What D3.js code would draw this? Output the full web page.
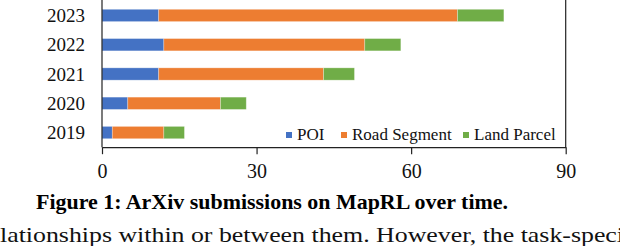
<!DOCTYPE html>
<html>
<head>
<meta charset="utf-8">
<script src="https://cdn.jsdelivr.net/npm/d3@7"></script>
<style>
  body { margin: 0; background: #fff; }
  svg { display: block; }
</style>
</head>
<body>
<script>
  // chart values
  let years = ["2019", "2020", "2021", "2022", "2023"];
  let poi = [2, 5, 11, 12, 11];
  let roadSegment = [10, 18, 32, 39, 58];
  let landParcel = [4, 5, 6, 7, 9];
  let seriesNames = ["POI", "Road Segment", "Land Parcel"];
  let xTicks = [0, 30, 60, 90];

  let colors = ["#4472C4", "#ED7D31", "#70AD47"];
  let serif = "'Liberation Serif', 'Times New Roman', serif";

  let svg = d3.select("body")
    .append("svg")
    .attr("width", 620)
    .attr("height", 246);

  // build rows for the stack
  let rows = years.map((y, i) => ({
    year: y,
    "POI": poi[i],
    "Road Segment": roadSegment[i],
    "Land Parcel": landParcel[i]
  }));
  let stacked = d3.stack().keys(seriesNames)(rows);

  let xScale = d3.scaleLinear()
    .domain([0, 90])
    .range([102, 565.7]);

  // 2019 at the bottom, 2023 on top
  let yScale = d3.scaleBand()
    .domain(years.slice().reverse())
    .range([0.8, 147.2])
    .paddingInner(0.58)
    .paddingOuter(0.29);

  // bars
  svg.selectAll(".series")
    .data(stacked)
    .enter()
    .append("g")
      .attr("fill", (d, i) => colors[i])
    .selectAll("rect")
    .data((d) => d)
    .enter()
    .append("rect")
      .attr("x", (d) => xScale(d[0]))
      .attr("y", (d) => yScale(d.data.year))
      .attr("width", (d) => xScale(d[1]) - xScale(d[0]))
      .attr("height", yScale.bandwidth())
      .attr("stroke", "#ffffff")
      .attr("stroke-opacity", 0.35)
      .attr("stroke-width", 0.8);

  // plot frame (right side)
  svg.append("line")
    .attr("x1", xScale(90)).attr("x2", xScale(90))
    .attr("y1", 0).attr("y2", 147.2)
    .attr("stroke", "#222").attr("stroke-width", 1.2);

  // x axis
  let xAxis = d3.axisBottom(xScale)
    .tickValues(xTicks)
    .tickSize(7)
    .tickSizeOuter(0);
  let gx = svg.append("g")
    .attr("transform", "translate(0,147.2)")
    .attr("font-family", serif)
    .call(xAxis);
  gx.select(".domain").attr("stroke", "#222").attr("stroke-width", 1.2);
  gx.selectAll(".tick line").attr("stroke", "#222").attr("stroke-width", 1.2);
  gx.selectAll(".tick text")
    .attr("y", 30.5)
    .attr("dy", null)
    .style("font-family", serif)
    .style("font-size", "20px")
    .attr("fill", "#111");

  // y axis
  let yAxis = d3.axisLeft(yScale).tickSize(0).tickPadding(17);
  let gy = svg.append("g")
    .attr("transform", "translate(102,0)")
    .attr("font-family", serif)
    .call(yAxis);
  gy.select(".domain").attr("stroke", "#222").attr("stroke-width", 1.2)
    .attr("d", "M0,0V147.2");
  gy.selectAll(".tick text")
    .attr("dy", "0.35em")
    .style("font-family", serif)
    .style("font-size", "19px")
    .attr("fill", "#111");

  // legend
  let legendX = [286, 341, 463];
  let legend = svg.selectAll(".legend")
    .data(seriesNames)
    .enter()
    .append("g")
      .attr("transform", (d, i) => "translate(" + legendX[i] + ",132)");
  legend.append("rect")
    .attr("width", 6)
    .attr("height", 6)
    .attr("fill", (d, i) => colors[i]);
  legend.append("text")
    .attr("x", 11)
    .attr("y", 8)
    .style("font-family", serif)
    .style("font-size", "17px")
    .attr("fill", "#111")
    .text((d) => d);

  // caption and the text line below it
  svg.append("text")
    .attr("x", 36)
    .attr("y", 209)
    .attr("textLength", 472)
    .attr("lengthAdjust", "spacingAndGlyphs")
    .style("font-family", serif)
    .style("font-weight", "bold")
    .style("font-size", "22px")
    .attr("fill", "#000")
    .text("Figure 1: ArXiv submissions on MapRL over time.");

  svg.append("text")
    .attr("x", 0)
    .attr("y", 242)
    .attr("textLength", 624)
    .attr("lengthAdjust", "spacingAndGlyphs")
    .style("font-family", serif)
    .style("font-size", "22px")
    .attr("fill", "#111")
    .text("lationships within or between them. However, the task-speci");
</script>
</body>
</html>
